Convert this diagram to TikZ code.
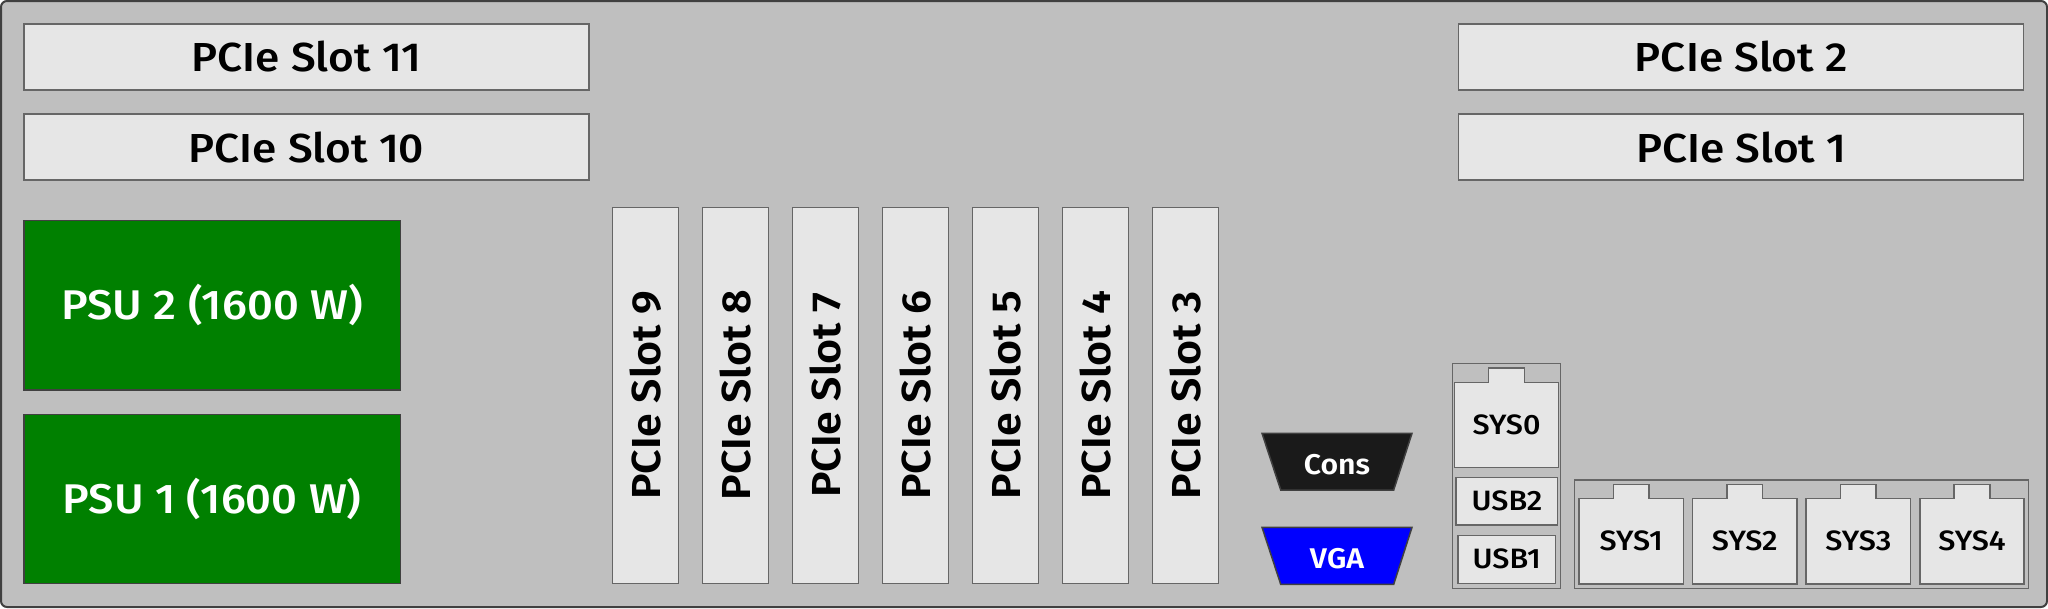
\documentclass[tikz,border=0pt]{standalone}
\usepackage{fontspec}
\setmainfont{Fira Sans}[UprightFont=* SemiBold, BoldFont=* Bold, FakeStretch=1.06]
\newfontfamily\medfont{Fira Sans}[UprightFont=* Medium, BoldFont=* SemiBold, FakeStretch=1.09]
\definecolor{bg}{HTML}{BFBFBF}
\definecolor{boxfill}{HTML}{E6E6E6}
\definecolor{boxline}{HTML}{666666}
\definecolor{outline}{HTML}{404040}
\definecolor{psugreen}{HTML}{008000}
\definecolor{consfill}{HTML}{1A1A1A}
\definecolor{vgablue}{HTML}{0000FF}
\tikzset{
  slotbox/.style={draw=boxline, fill=boxfill, line width=1.5pt, inner sep=0pt,
    font=\medfont\fontsize{40.5}{48}\selectfont},
  vslotbox/.style={slotbox, font=\fontsize{40.5}{48}\selectfont},
  psubox/.style={draw=outline, fill=psugreen, line width=1.5pt, inner sep=0pt,
    text=white, font=\medfont\fontsize{41.5}{48}\selectfont},
  usbbox/.style={draw=boxline, fill=boxfill, line width=1.5pt, inner sep=0pt,
    font=\medfont\fontsize{28}{32}\selectfont},
  porttext/.style={inner sep=0pt, font=\medfont\fontsize{28}{32}\selectfont},
  vidtext/.style={inner sep=0pt, text=white, font=\fontsize{28.5}{32}\selectfont},
  portshape/.style={draw=boxline, fill=boxfill, line width=1.5pt, line join=miter},
  groupbox/.style={draw=boxline, fill=bg, line width=1.5pt},
}
\begin{document}
\begin{tikzpicture}[x=1pt,y=-1pt]
\useasboundingbox (0,0) rectangle (2048,608);
% chassis
\draw[fill=bg, draw=outline, line width=2pt, rounded corners=6pt] (1,1) rectangle (2047,607);

% horizontal PCIe slots
\node[slotbox, minimum width=565pt, minimum height=66pt] (s11) at (306.5,57) {PCIe Slot 11};
\node[slotbox, minimum width=565pt, minimum height=66pt] (s10) at (306.5,147.2) {PCIe Slot 10};
\node[slotbox, minimum width=565pt, minimum height=66pt] (s2) at (1741.2,57) {PCIe Slot 2};
\node[slotbox, minimum width=565pt, minimum height=66pt] (s1) at (1741.2,147.2) {PCIe Slot 1};

% PSUs
\node[psubox, minimum width=376.3pt, minimum height=169.7pt] (psu2) at (212.25,305.2) {PSU 2 (1600 W)};
\node[psubox, minimum width=376.3pt, minimum height=169pt] (psu1) at (212.25,498.8) {PSU 1 (1600 W)};

% vertical PCIe slots
\foreach \i/\n in {0/9,1/8,2/7,3/6,4/5,5/4,6/3}{
  \node[vslotbox, rotate=90, minimum width=376pt, minimum height=66pt] (s\n) at (645.4+90*\i,395.3) {PCIe Slot \n};
}

% Console and VGA connectors
\fill[consfill, draw=outline, line width=1.5pt] (1262,433.3) -- (1412,433.3) -- (1393.7,490) -- (1280.7,490) -- cycle;
\node[vidtext] (cons) at (1337,465) {Cons};
\fill[vgablue, draw=outline, line width=1.5pt] (1262,527.3) -- (1412,527.3) -- (1393.7,584.3) -- (1280.7,584.3) -- cycle;
\node[vidtext] (vga) at (1337,559) {VGA};

% SYS0 / USB group
\draw[groupbox] (1452.7,363.3) rectangle (1560.3,588.7);
\draw[portshape] (1454.3,467.3) -- (1454.3,382.3) -- (1488.7,382.3) -- (1488.7,368) -- (1524.3,368) -- (1524.3,382.3) -- (1558.7,382.3) -- (1558.7,467.3) -- cycle;
\node[porttext] (sys0) at (1506.5,424.8) {SYS0};
\node[usbbox, minimum width=101.7pt, minimum height=47.7pt] (usb2) at (1506.85,501.15) {USB2};
\node[usbbox, minimum width=97.3pt, minimum height=48pt] (usb1) at (1506.65,559.3) {USB1};

% SYS1-4 group
\draw[groupbox] (1574.3,480) rectangle (2028.5,588.7);
\foreach \k in {1,2,3,4}{
  \pgfmathsetmacro{\xa}{1579+113.6*(\k-1)}
  \pgfmathsetmacro{\xb}{\xa+104.4}
  \pgfmathsetmacro{\ta}{\xa+34.4}
  \pgfmathsetmacro{\tb}{\xa+70}
  \draw[portshape] (\xa,584) -- (\xa,498.3) -- (\ta,498.3) -- (\ta,484.3) -- (\tb,484.3) -- (\tb,498.3) -- (\xb,498.3) -- (\xb,584) -- cycle;
  \node[porttext] (sys\k) at (\xa+52.2,541.2) {SYS\k};
}
\end{tikzpicture}
\end{document}
